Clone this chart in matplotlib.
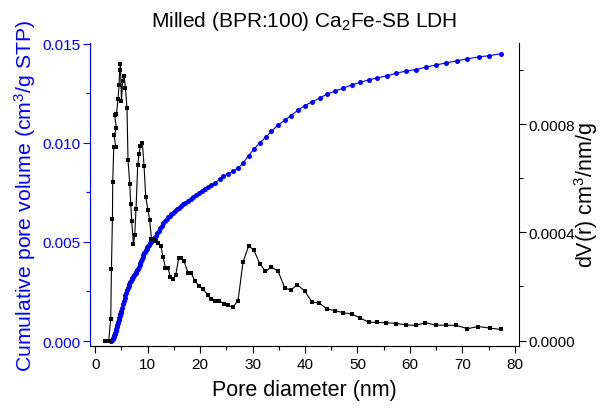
import matplotlib
matplotlib.use("Agg")
import matplotlib.pyplot as plt
from matplotlib.ticker import MultipleLocator, FormatStrFormatter

plt.rcParams['font.family'] = ['Liberation Sans', 'DejaVu Sans']
plt.rcParams['mathtext.fontset'] = 'custom'
plt.rcParams['mathtext.rm'] = 'Liberation Sans'
plt.rcParams['mathtext.default'] = 'regular'

# ---- Cumulative pore volume (blue, left axis) ----
cum_diam = [3.0, 3.1, 3.2, 3.3, 3.4, 3.5, 3.6, 3.7, 3.8, 3.9, 4.0, 4.1, 4.2, 4.3,
            4.4, 4.5, 4.6, 4.7, 4.8, 4.9, 5.0, 5.15, 5.3, 5.45, 5.6, 5.75, 5.9,
            6.05, 6.2, 6.35, 6.5, 6.65, 6.8, 6.95, 7.1, 7.25, 7.4, 7.55, 7.7,
            7.85, 8.0, 8.15, 8.3, 8.45, 8.6, 8.75, 8.9, 9.05, 9.2, 9.35, 9.5,
            9.65, 9.8, 9.95, 10.1, 10.3, 10.5, 10.7, 10.9, 11.1, 11.3, 11.5,
            11.8, 12.1, 12.4, 12.7, 13.0, 13.3, 13.6, 13.9, 14.2, 14.5, 14.8,
            15.2, 15.6, 16.0, 16.4, 16.8, 17.2, 17.7, 18.2, 18.7, 19.2, 19.7,
            20.3, 20.9, 21.5, 22.1, 22.8, 23.74, 24.37, 25.32, 26.28, 27.23,
            28.18, 29.27, 30.28, 31.37, 32.51, 33.60, 34.86, 36.14, 37.28,
            38.67, 39.95, 41.42, 42.81, 44.20, 45.67, 47.25, 48.97, 50.57,
            52.15, 53.81, 55.64, 57.44, 59.21, 61.12, 63.02, 64.93, 66.97,
            68.99, 70.98, 73.13, 75.09, 77.46]
cum_volume = [0.0, 0.00002, 0.00006, 0.00011, 0.00016, 0.00022, 0.00028, 0.00034,
              0.00042, 0.00052, 0.00062, 0.00071, 0.00080, 0.00089, 0.00098,
              0.00107, 0.00116, 0.00125, 0.00134, 0.00143, 0.00153, 0.00169,
              0.00186, 0.00202, 0.00218, 0.00230, 0.00241, 0.00255, 0.00268,
              0.00278, 0.00288, 0.00296, 0.00304, 0.00312, 0.00319, 0.00325,
              0.00331, 0.00337, 0.00342, 0.00348, 0.00356, 0.00365, 0.00375,
              0.00385, 0.00395, 0.00405, 0.00415, 0.00425, 0.00434, 0.00443,
              0.00451, 0.00458, 0.00465, 0.00472, 0.00478, 0.00486, 0.00494,
              0.00501, 0.00508, 0.00515, 0.00521, 0.00529, 0.00543, 0.00556,
              0.00569, 0.00581, 0.00593, 0.00604, 0.00615, 0.00624, 0.00632,
              0.00640, 0.00648, 0.00656, 0.00665, 0.00673, 0.00681, 0.00689,
              0.00697, 0.00706, 0.00716, 0.00727, 0.00737, 0.00746, 0.00757,
              0.00767, 0.00777, 0.00787, 0.00798, 0.00815, 0.00830, 0.00844,
              0.00856, 0.00871, 0.00898, 0.00935, 0.00969, 0.00999, 0.01028,
              0.01058, 0.01090, 0.01113, 0.01137, 0.01164, 0.01187, 0.01207,
              0.01226, 0.01245, 0.01260, 0.01275, 0.01292, 0.01305, 0.01317,
              0.01327, 0.01338, 0.01351, 0.01361, 0.01369, 0.01381, 0.01392,
              0.01403, 0.01413, 0.01423, 0.01433, 0.01439, 0.01449]

# ---- Pore size distribution dV(r) (black, right axis) ----
psd_diam = [1.81, 2.19, 2.57, 2.96, 3.09, 3.28, 3.34, 3.53, 3.91, 3.59, 4.04, 3.72,
            4.04, 4.35, 4.54, 4.67, 4.81, 5.00, 5.24, 5.49, 5.76, 6.06, 6.25,
            6.58, 6.77, 6.96, 7.28, 7.53, 7.78, 8.10, 8.35, 8.62, 9.00, 9.31,
            9.63, 10.07, 10.39, 10.72, 11.21, 11.63, 11.98, 12.49, 12.93, 13.39,
            13.88, 14.34, 14.84, 15.35, 15.92, 16.44, 16.93, 17.70, 18.34, 18.97,
            19.79, 20.56, 21.51, 22.03, 22.79, 23.61, 24.50, 25.32, 26.28, 27.23,
            28.18, 29.27, 30.28, 31.37, 32.46, 33.60, 34.86, 36.14, 37.28, 38.56,
            39.95, 41.34, 42.68, 44.20, 45.67, 47.25, 48.97, 50.57, 52.15, 53.81,
            55.53, 57.44, 59.20, 61.12, 62.97, 64.93, 66.84, 68.88, 70.98, 73.07,
            75.23, 77.46]
psd_dv = [0.0, 0.0, 0.0, 0.0000804, 0.000266, 0.000451, 0.000587, 0.000716,
          0.000716, 0.000759, 0.000784, 0.000833, 0.000836, 0.000893, 0.000944,
          0.001000, 0.001022, 0.000887, 0.000961, 0.000978, 0.000935, 0.000858,
          0.000667, 0.000580, 0.000506, 0.000442, 0.000358, 0.000389, 0.000488,
          0.000648, 0.000691, 0.000720, 0.000729, 0.000644, 0.000531, 0.000481,
          0.000444, 0.000377, 0.000377, 0.000369, 0.000362, 0.000351, 0.000309,
          0.000268, 0.000268, 0.000235, 0.000226, 0.000241, 0.000306, 0.000305,
          0.000294, 0.000250, 0.000248, 0.000222, 0.000201, 0.000191, 0.000167,
          0.000152, 0.000148, 0.000148, 0.000136, 0.000130, 0.000124, 0.000148,
          0.000290, 0.000351, 0.000333, 0.000284, 0.000256, 0.000272, 0.000256,
          0.000195, 0.000187, 0.000206, 0.000183, 0.000142, 0.000139, 0.000117,
          0.000111, 0.000103, 0.000098, 0.000083, 0.000068, 0.000067, 0.000066,
          0.000063, 0.000058, 0.000056, 0.000066, 0.000057, 0.000057, 0.000056,
          0.000044, 0.000052, 0.000046, 0.000041]

title = "Milled (BPR:100) Ca$_2$Fe-SB LDH"
xlabel = "Pore diameter (nm)"
ylabel_left = "Cumulative pore volume (cm$^3$/g STP)"
ylabel_right = "dV(r) cm$^3$/nm/g"

blue = '#0000ff'

fig = plt.figure(figsize=(6.08, 4.10), dpi=100)
ax = fig.add_axes([0.148, 0.1537, 0.7056, 0.739])
ax2 = ax.twinx()

ax.plot(cum_diam, cum_volume, '-o', color=blue, ms=3.6, lw=0.8, mew=0)
ax2.plot(psd_diam, psd_dv, '-s', color='black', ms=3.2, lw=0.8, mew=0)

ax.set_xlim(-1.0, 80.8)
ax.set_ylim(-0.00025, 0.01503)
ax2.set_ylim(-0.00002, 0.0011)

ax.xaxis.set_major_locator(MultipleLocator(10))
ax.xaxis.set_minor_locator(MultipleLocator(5))
ax.yaxis.set_major_locator(MultipleLocator(0.005))
ax.yaxis.set_minor_locator(MultipleLocator(0.0025))
ax.yaxis.set_major_formatter(FormatStrFormatter('%.3f'))
ax2.yaxis.set_major_locator(MultipleLocator(0.0004))
ax2.yaxis.set_minor_locator(MultipleLocator(0.0002))
ax2.yaxis.set_major_formatter(FormatStrFormatter('%.4f'))

for a in (ax, ax2):
    a.spines['top'].set_visible(False)
ax.spines['left'].set_color(blue)
ax.spines['right'].set_visible(False)
ax2.spines['left'].set_visible(False)
ax2.spines['right'].set_color('black')

ax.tick_params(axis='x', which='major', direction='out', length=5, width=0.8, labelsize=11, pad=3)
ax.tick_params(axis='x', which='minor', direction='out', length=3, width=0.8)
ax.tick_params(axis='y', which='major', direction='out', length=5, width=0.8, labelsize=11,
               colors=blue, pad=2)
ax.tick_params(axis='y', which='minor', direction='out', length=3, width=0.8, colors=blue)
ax2.tick_params(axis='y', which='major', direction='out', length=5, width=0.8, labelsize=11, pad=2)
ax2.tick_params(axis='y', which='minor', direction='out', length=3, width=0.8)

ax.set_xlabel(xlabel, fontsize=15.5, labelpad=6)
ax.set_ylabel(ylabel_left, fontsize=15.3, color=blue, labelpad=3)
ax2.set_ylabel(ylabel_right, fontsize=15.5, labelpad=-2)
ax.set_title(title, fontsize=15, pad=12)

fig.savefig("out.png", dpi=100)
